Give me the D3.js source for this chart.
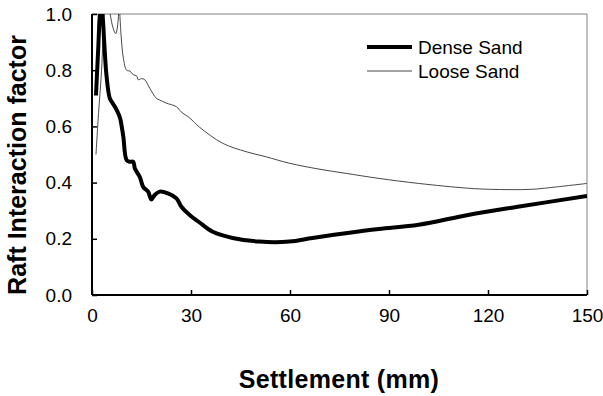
<!DOCTYPE html>
<html><head><meta charset="utf-8">
<script src="https://cdn.jsdelivr.net/npm/d3@7"></script>
<style>body{margin:0;background:#fff}svg{display:block}text{font-family:Arial,"Liberation Sans",sans-serif}</style>
</head><body><svg id="c" width="603" height="396"></svg>
<script>
const xTicks = [0, 30, 60, 90, 120, 150];
const yTicks = [0.0, 0.2, 0.4, 0.6, 0.8, 1.0];
const seriesNames = ["Dense Sand", "Loose Sand"];
const denseX = [1.2,1.9,2.4,2.8,3.3,3.7,4.4,5.4,6.4,7.5,8.5,9.0,9.5,10.5,11.5,12.5,13.0,14.5,15.5,17.0,18.0,19.0,20.5,23.0,25.6,27.1,29.6,32.6,36.6,42.6,50.7,59.8,66.8,76.9,86.9,99,114,129,150];
const denseY = [0.71,0.88,1.0,1.03,0.98,0.9,0.78,0.70,0.68,0.658,0.63,0.60,0.563,0.48,0.474,0.474,0.45,0.42,0.385,0.368,0.34,0.356,0.368,0.362,0.344,0.314,0.285,0.258,0.225,0.203,0.19,0.19,0.203,0.22,0.235,0.25,0.285,0.314,0.352];
const looseX = [1.2,2.0,2.9,3.7,4.5,5.5,6.4,7.2,7.9,8.2,8.8,9.5,10.5,11.5,12.5,13.5,14.0,15.0,16.0,17.5,19.5,20.5,22.5,25.6,27.0,29.6,32.6,39.6,46.7,52.7,59.8,68.8,76.9,86.9,99,114,121,133,141,150];
const looseY = [0.5,0.65,0.8,1.0,1.08,1.0,0.95,0.93,0.975,1.03,0.926,0.843,0.80,0.797,0.784,0.78,0.766,0.77,0.766,0.736,0.70,0.694,0.683,0.67,0.652,0.63,0.597,0.54,0.51,0.492,0.469,0.448,0.433,0.415,0.397,0.38,0.376,0.376,0.385,0.397];

const svg = d3.select("#c");
const L = 92, R = 587, T = 14, B = 295;
const x = d3.scaleLinear().domain([0, 150]).range([L, R]);
const y = d3.scaleLinear().domain([0, 1]).range([B, T]);

svg.append("defs").append("clipPath").attr("id","clip")
  .append("rect").attr("x", L).attr("y", T).attr("width", R - L).attr("height", B - T);

// frame top/right
svg.append("line").attr("x1", L).attr("x2", R).attr("y1", T).attr("y2", T).attr("stroke", "#808080").attr("stroke-width", 1);
svg.append("line").attr("x1", R).attr("x2", R).attr("y1", T).attr("y2", B).attr("stroke", "#808080").attr("stroke-width", 1);

const line = d3.line().curve(d3.curveCatmullRom.alpha(0.5)).x(d => x(d[0])).y(d => y(d[1]));
const g = svg.append("g").attr("clip-path", "url(#clip)");
g.append("path").datum(looseX.map((v, i) => [v, looseY[i]]))
  .attr("d", line).attr("fill", "none").attr("stroke", "#333").attr("stroke-width", 0.9);
g.append("path").datum(denseX.map((v, i) => [v, denseY[i]]))
  .attr("d", line).attr("fill", "none").attr("stroke", "#000").attr("stroke-width", 4).attr("stroke-linejoin", "round");

// axes
const xAxis = d3.axisBottom(x).tickValues(xTicks).tickSize(-5).tickPadding(14).tickFormat(d3.format("d"));
const xg = svg.append("g").attr("transform", `translate(0,${B})`).call(xAxis);
xg.select(".domain").attr("stroke-width", 2).attr("d", `M${L},0H${R}`);
xg.selectAll(".tick line").attr("stroke-width", 1.5);
xg.selectAll("text").attr("font-size", 19).attr("fill", "#000").attr("font-family", "Arial, Liberation Sans, sans-serif");

const yAxis = d3.axisLeft(y).tickValues(yTicks).tickSize(-5).tickPadding(20).tickFormat(d3.format(".1f"));
const yg = svg.append("g").attr("transform", `translate(${L},0)`).call(yAxis);
yg.select(".domain").attr("stroke-width", 2).attr("d", `M0,${B}V${T}`);
yg.selectAll(".tick line").attr("stroke-width", 1.5);
yg.selectAll("text").attr("font-size", 19).attr("fill", "#000").attr("font-family", "Arial, Liberation Sans, sans-serif");

// titles
svg.append("text").attr("x", 339).attr("y", 388).attr("text-anchor", "middle")
  .attr("font-size", 25).attr("font-weight", "bold").attr("letter-spacing", 0.3).text("Settlement (mm)");
svg.append("text").attr("transform", "translate(26,165) rotate(-90)").attr("text-anchor", "middle")
  .attr("font-size", 25).attr("font-weight", "bold").text("Raft Interaction factor");

// legend
const leg = [{w: 4, c: "#000", yy: 47}, {w: 0.9, c: "#333", yy: 71}];
leg.forEach((l, i) => {
  svg.append("line").attr("x1", 367).attr("x2", 412).attr("y1", l.yy).attr("y2", l.yy)
    .attr("stroke", l.c).attr("stroke-width", l.w);
  svg.append("text").attr("x", 418).attr("y", l.yy).attr("dy", "0.35em")
    .attr("font-size", 19).text(seriesNames[i]);
});
</script></body></html>
